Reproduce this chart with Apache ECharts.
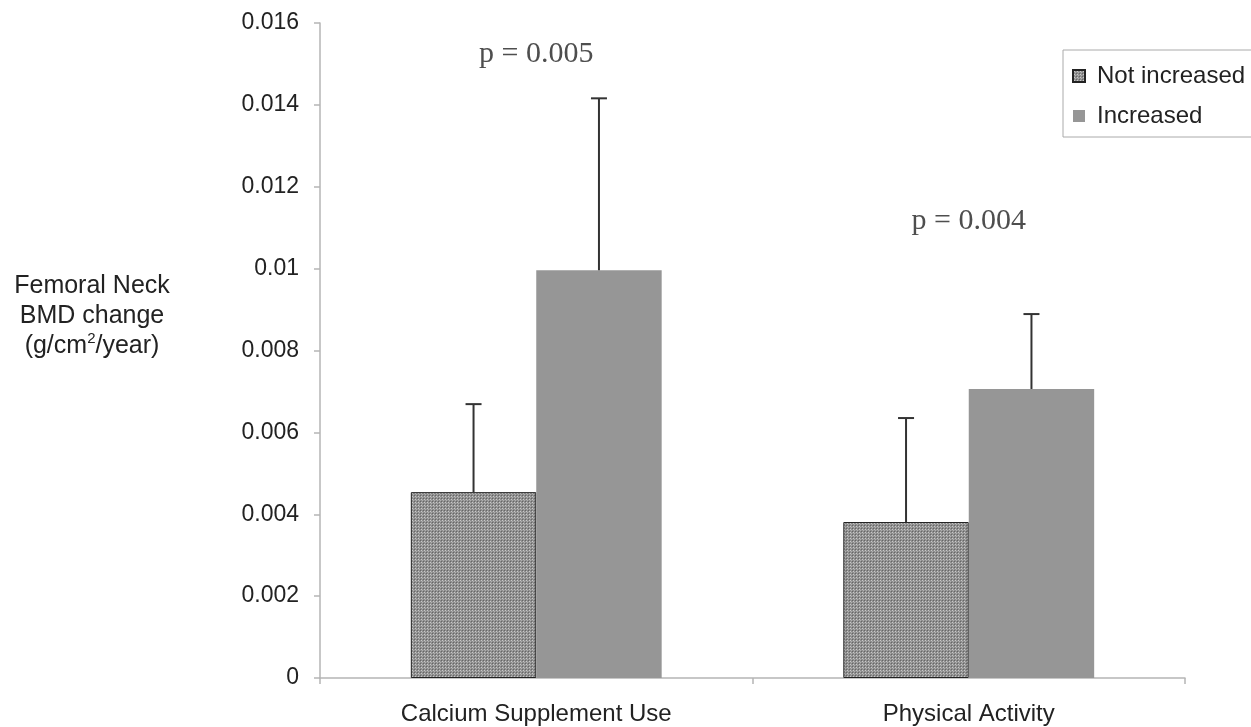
<!DOCTYPE html>
<html>
<head>
<meta charset="utf-8">
<script src="https://cdn.jsdelivr.net/npm/echarts@6/dist/echarts.min.js"></script>
<style>html,body{margin:0;padding:0;background:#fff;}#c{width:1251px;height:727px;}</style>
</head>
<body>
<div id="c"></div>
<script>
var categories = ['Calcium Supplement Use', 'Physical Activity'];
var seriesNames = ['Not increased', 'Increased'];
var notIncreased = [0.00454, 0.00381];
var increased = [0.00996, 0.00706];
var notIncreasedErrTop = [0.00669, 0.00635];
var increasedErrTop = [0.01416, 0.00889];
var pLabels = ['p = 0.005', 'p = 0.004'];
var pLabelY = [0.01525, 0.01115];
var yTicks = { min: 0, max: 0.016, interval: 0.002 };

var pc = document.createElement('canvas');
pc.width = 3; pc.height = 3;
var g = pc.getContext('2d');
g.fillStyle = '#8e8e8e'; g.fillRect(0, 0, 3, 3);
g.fillStyle = '#c9c9c9'; g.fillRect(1, 1, 1, 1);
g.fillStyle = '#666'; g.fillRect(0, 0, 1, 1);
g.fillStyle = '#b0b0b0'; g.fillRect(2, 2, 1, 1);

var catGap = 0.42;
var errData = [];
for (var i = 0; i < categories.length; i++) {
  errData.push([i, notIncreased[i], notIncreasedErrTop[i], 0]);
  errData.push([i, increased[i], increasedErrTop[i], 1]);
}

var chart = echarts.init(document.getElementById('c'));
var font = '"Liberation Sans", Arial, sans-serif';
chart.setOption({
  animation: false,
  backgroundColor: '#fff',
  textStyle: { fontFamily: font },
  grid: { left: 320, right: 66, top: 23, bottom: 49, containLabel: false, outerBoundsMode: 'none' },
  legend: {
    orient: 'vertical', left: 1063, top: 50,
    data: seriesNames.map(function (n) { return { name: n, icon: 'rect' }; }),
    borderColor: '#aaa', borderWidth: 1,
    padding: [14, 30, 9, 9],
    itemWidth: 12, itemHeight: 12, itemGap: 16,
    textStyle: { fontSize: 24, color: '#222', fontFamily: font, padding: [0, 0, 0, 7] }
  },
  xAxis: {
    type: 'category', data: categories,
    axisLine: { lineStyle: { color: '#b5b5b5', width: 1.5 } },
    axisTick: { show: true, length: 6, lineStyle: { color: '#b5b5b5', width: 1.5 } },
    axisLabel: { fontSize: 24, color: '#222', margin: 24, fontFamily: font }
  },
  yAxis: {
    type: 'value', min: yTicks.min, max: yTicks.max, interval: yTicks.interval,
    splitLine: { show: false },
    axisLine: { show: true, lineStyle: { color: '#b5b5b5', width: 1.5 } },
    axisTick: { show: true, length: 6, lineStyle: { color: '#b5b5b5', width: 1.5 } },
    axisLabel: { fontSize: 23, color: '#222', margin: 21, fontFamily: font,
      formatter: function (v) { return String(+v.toFixed(4)); } }
  },
  series: [
    { name: seriesNames[0], type: 'bar', data: notIncreased, barGap: '0%', barCategoryGap: (catGap * 100) + '%',
      itemStyle: { color: { image: pc, repeat: 'repeat' }, borderColor: '#222', borderWidth: 1 } },
    { name: seriesNames[1], type: 'bar', data: increased, barGap: '0%', barCategoryGap: (catGap * 100) + '%',
      itemStyle: { color: '#969696' } },
    { type: 'custom', data: errData, z: 5, silent: true,
      renderItem: function (params, api) {
        var cat = api.value(0), v = api.value(1), t = api.value(2), s = api.value(3);
        var p0 = api.coord([cat, v]);
        var p1 = api.coord([cat, t]);
        var bandW = api.size([1, 0])[0];
        var bw = bandW * (1 - catGap) / 2;
        var x = p0[0] + (s === 0 ? -bw / 2 : bw / 2);
        var st = { stroke: '#333', lineWidth: 2 };
        return { type: 'group', children: [
          { type: 'line', shape: { x1: x, y1: p0[1], x2: x, y2: p1[1] }, style: st },
          { type: 'line', shape: { x1: x - 8, y1: p1[1], x2: x + 8, y2: p1[1] }, style: st }
        ] };
      } },
    { type: 'scatter', symbolSize: 0, silent: true, z: 6,
      data: pLabels.map(function (l, i) { return { value: [i, pLabelY[i]], name: l }; }),
      label: { show: true, position: 'inside', formatter: '{b}',
        fontFamily: '"Liberation Serif", "Times New Roman", serif', fontSize: 30, color: '#222' } }
  ],
  graphic: [{
    type: 'text', x: 92, y: 271,
    style: {
      text: 'Femoral Neck\nBMD change\n(g/cm{sup|2}/year)',
      align: 'center', verticalAlign: 'top', fill: '#222',
      font: '25px ' + font, lineHeight: 30,
      rich: { sup: { fontSize: 15, verticalAlign: 'top', padding: [0, 0, 10, 0], lineHeight: 30 } }
    }
  }]
});
</script>
</body>
</html>
